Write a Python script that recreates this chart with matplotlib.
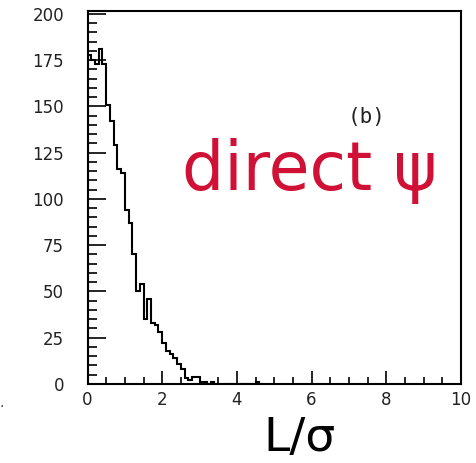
import numpy as np
import matplotlib
matplotlib.use("Agg")
import matplotlib.pyplot as plt
from matplotlib.ticker import MultipleLocator

# Histogram of L/sigma, bin width 0.1 starting at 0
bin_width = 0.1
counts = [178, 175, 173, 181, 173, 151, 142, 129, 116, 114,
          94, 87, 70, 50, 54, 35, 46, 33, 32, 28,
          22, 18, 16, 14, 11, 8, 3, 2, 4, 4,
          1, 1, 0, 1, 0, 0, 0, 0, 0, 0,
          0, 0, 0, 0, 0, 1, 0]

x_ticks = [0, 2, 4, 6, 8, 10]
y_ticks = [0, 25, 50, 75, 100, 125, 150, 175, 200]
xlabel = "L/σ"
panel_label = "(b)"
title_text = "direct ψ"

W, H = 476, 463
fig = plt.figure(figsize=(W / 100, H / 100), dpi=100)
ax = fig.add_axes([87.5 / W, 1 - 384 / H, (461 - 87.5) / W, (384 - 11) / H])

edges = np.arange(len(counts) + 1) * bin_width
ax.stairs(counts, edges, baseline=0, color="black", linewidth=1.5)

ax.set_xlim(0, 10)
ax.set_ylim(0, 201.6)
ax.set_xticks(x_ticks)
ax.set_yticks(y_ticks)
ax.xaxis.set_minor_locator(MultipleLocator(0.5))
ax.yaxis.set_minor_locator(MultipleLocator(5))

ax.tick_params(axis="y", which="major", direction="in", length=13, width=1.2,
               pad=17, labelsize=12)
ax.tick_params(axis="y", which="minor", direction="in", length=6.5, width=1.2)
ax.tick_params(axis="x", which="major", direction="in", length=9.5, width=1.2,
               pad=5, labelsize=12)
ax.tick_params(axis="x", which="minor", direction="in", length=5, width=1.2)
for lab in ax.get_xticklabels() + ax.get_yticklabels():
    lab.set_fontfamily("DejaVu Sans")
    lab.set_color("#222222")

for s in ax.spines.values():
    s.set_linewidth(1.5)

fig.text(300 / W, 1 - 451 / H, xlabel, fontsize=34, ha="center", va="baseline",
         color="black", family="DejaVu Sans")
fig.text(182 / W, 1 - 190 / H, title_text, fontsize=48, ha="left", va="baseline",
         color="#D01035", family="DejaVu Sans")
fig.text(367 / W, 1 - 117.5 / H, panel_label, fontsize=15, ha="center", va="center",
         color="#222222", family="DejaVu Sans Mono")
fig.text(2 / W, 1 - 403 / H, ".", fontsize=10, ha="center", va="center", color="#333333")

fig.savefig("out.png", dpi=100)
